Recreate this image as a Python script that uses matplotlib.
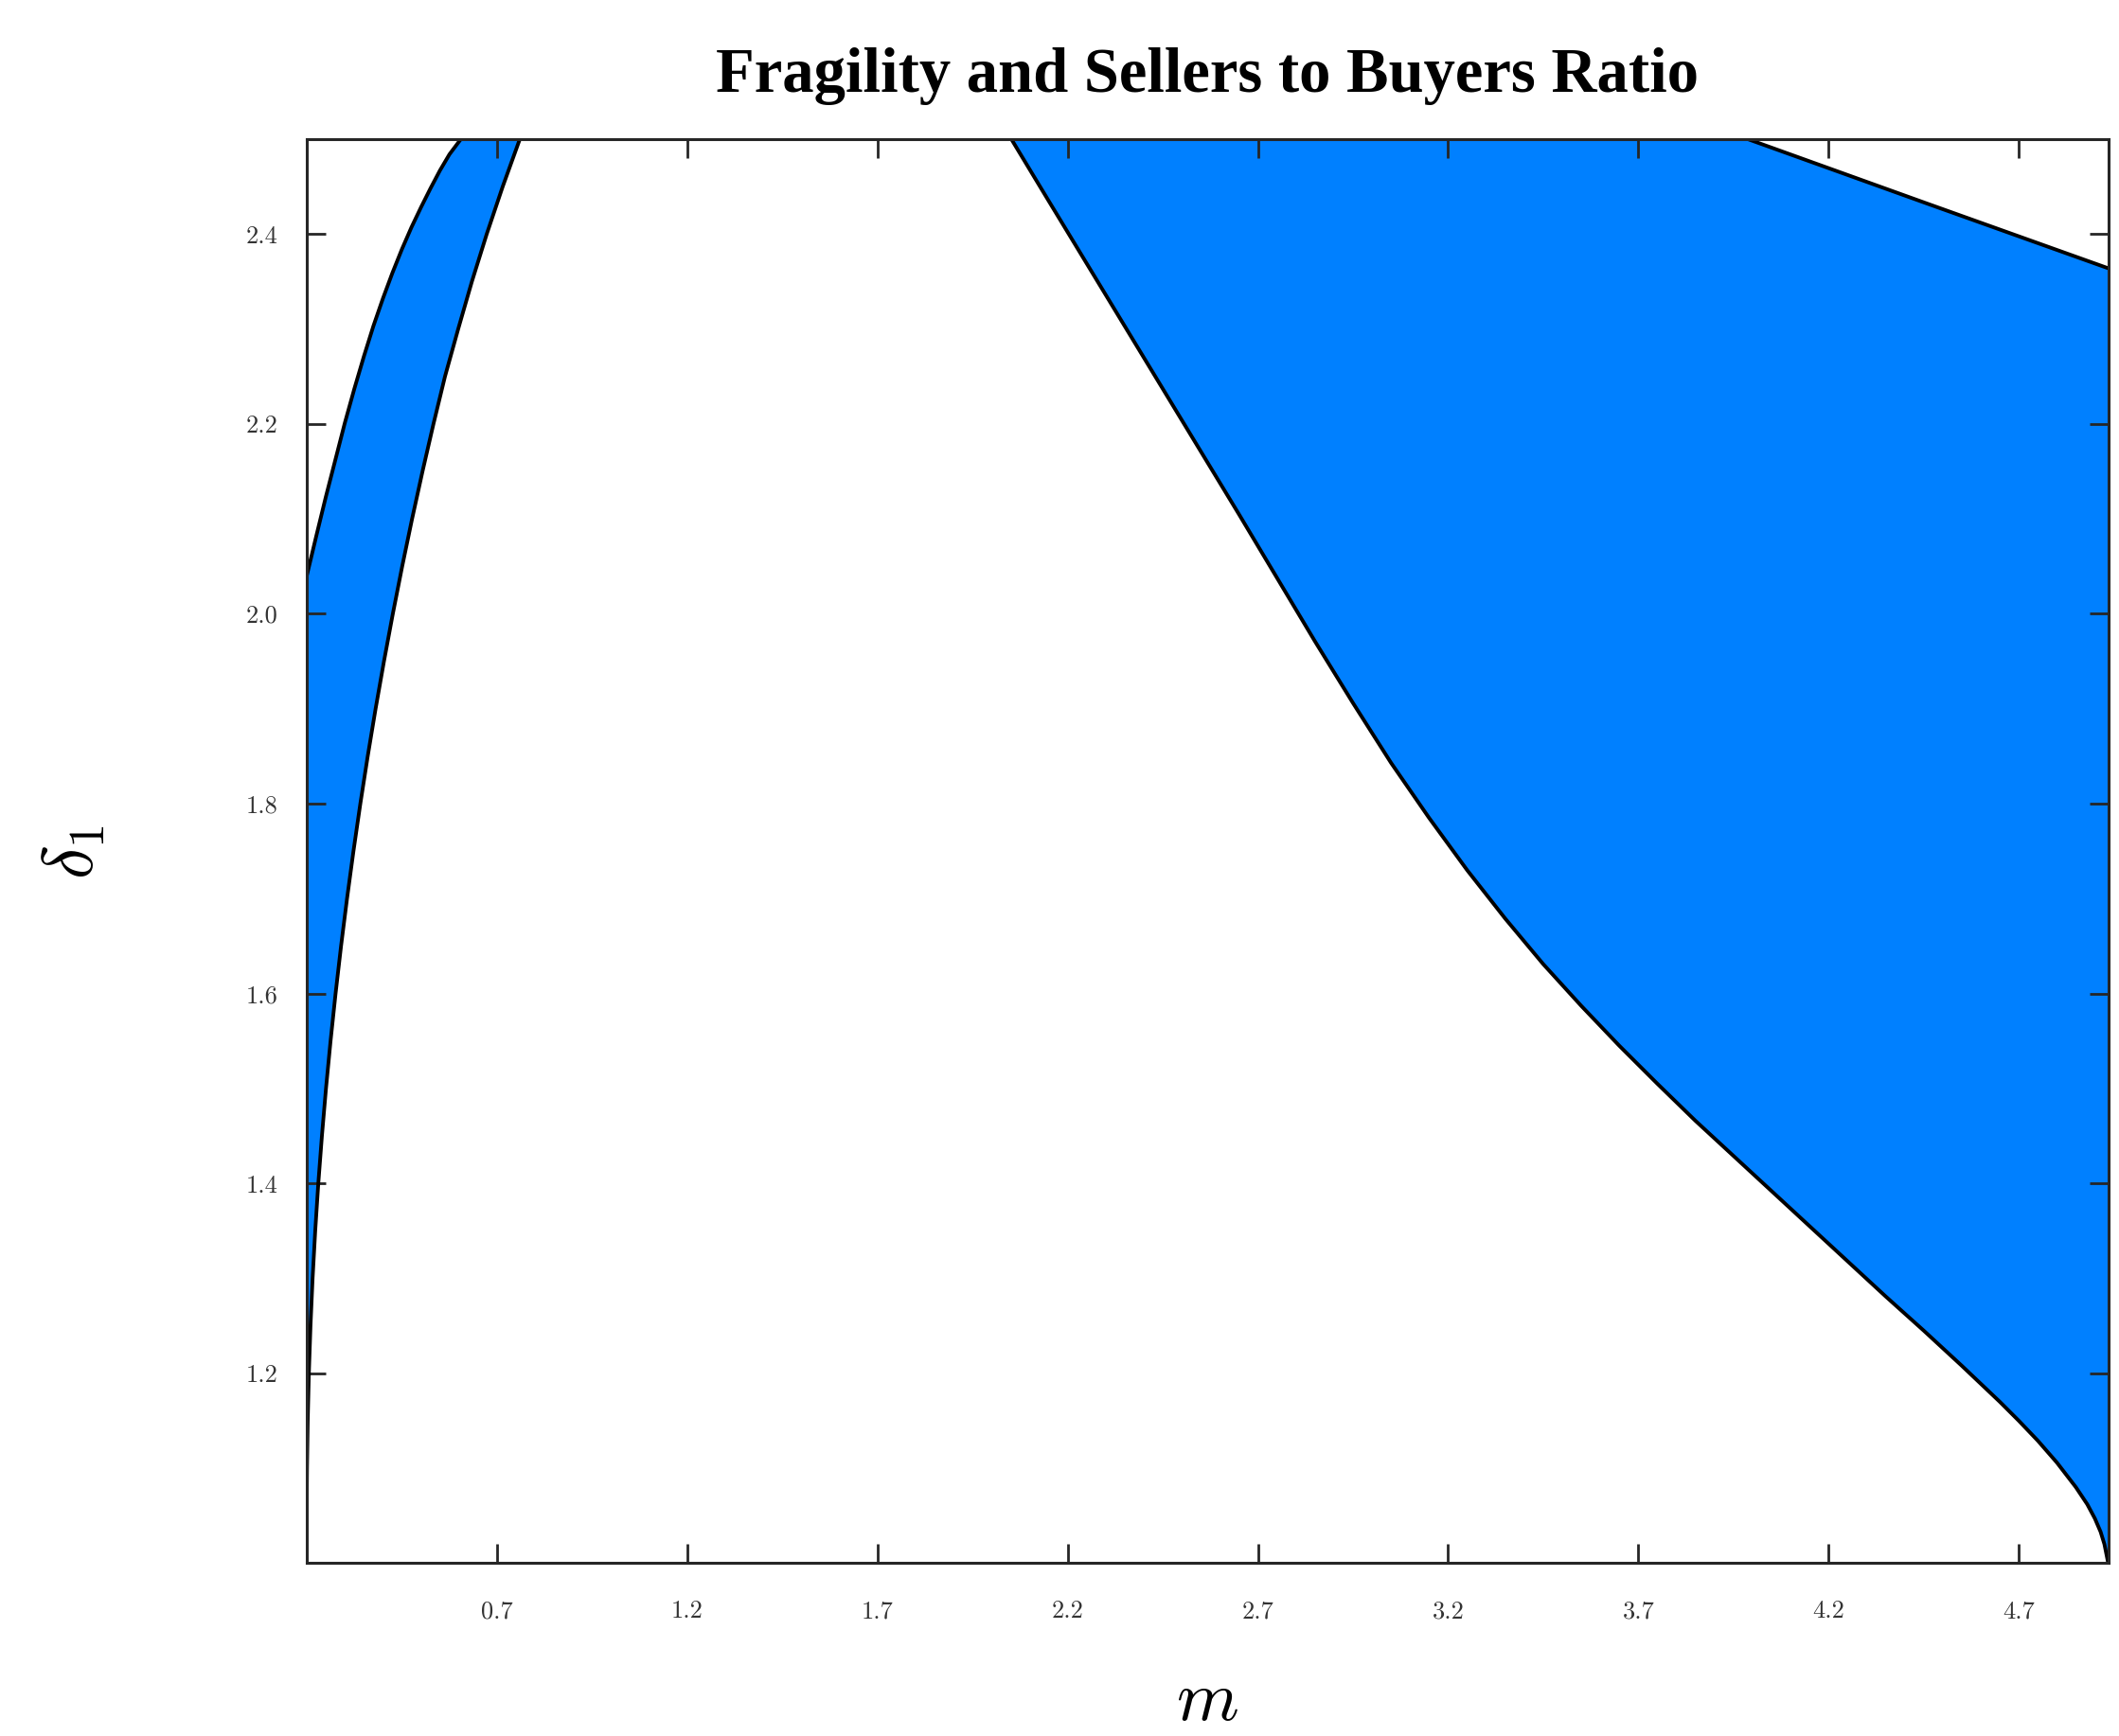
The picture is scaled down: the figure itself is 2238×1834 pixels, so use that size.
import numpy as np
import matplotlib
matplotlib.use("Agg")
from matplotlib import pyplot as plt

plt.rcParams["mathtext.fontset"] = "cm"

# left band: lower (right-hand) boundary, read bottom to top
d_left_lower = [1.05, 1.08, 1.10, 1.15, 1.20, 1.25, 1.30, 1.35, 1.40, 1.45,
                1.50, 1.55, 1.60, 1.65, 1.70, 1.75, 1.80, 1.85, 1.90, 1.95,
                2.00, 2.05, 2.10, 2.15, 2.20, 2.25, 2.30, 2.35, 2.40, 2.45,
                2.50]
m_left_lower = [0.2000, 0.2002, 0.2006, 0.2025, 0.2055, 0.2098, 0.2153, 0.2222,
                0.2303, 0.2398, 0.2505, 0.2625, 0.2757, 0.2901, 0.3058, 0.3227,
                0.3408, 0.3602, 0.3809, 0.4029, 0.4262, 0.4508, 0.4768, 0.5042,
                0.5330, 0.5633, 0.5980, 0.6340, 0.6730, 0.7150, 0.7600]

# left band: upper (left-hand) boundary
m_left_upper = [0.200, 0.225, 0.250, 0.275, 0.300, 0.325, 0.350, 0.375, 0.400,
                0.425, 0.450, 0.475, 0.500, 0.525, 0.550, 0.575, 0.605]
d_left_upper = [2.040, 2.082, 2.123, 2.162, 2.201, 2.237, 2.271, 2.303, 2.332,
                2.359, 2.384, 2.407, 2.428, 2.448, 2.467, 2.484, 2.500]

# right region: lower boundary
m_right_lower = [2.052, 2.15, 2.25, 2.35, 2.45, 2.55, 2.65, 2.75, 2.85, 2.95,
                 3.05, 3.15, 3.25, 3.35, 3.45, 3.55, 3.65, 3.75, 3.85, 3.95,
                 4.05, 4.15, 4.25, 4.35, 4.45, 4.55, 4.60, 4.65, 4.70, 4.75,
                 4.80, 4.85, 4.88, 4.90, 4.915, 4.925, 4.931, 4.934, 4.935]
d_right_lower = [2.500, 2.435, 2.369, 2.303, 2.237, 2.171, 2.105, 2.038, 1.971,
                 1.906, 1.843, 1.785, 1.730, 1.679, 1.631, 1.587, 1.545, 1.505,
                 1.466, 1.429, 1.392, 1.355, 1.318, 1.281, 1.245, 1.208, 1.189,
                 1.170, 1.150, 1.129, 1.106, 1.080, 1.062, 1.047, 1.033, 1.020,
                 1.008, 1.002, 1.000]

# right region: upper boundary
m_right_upper = [3.988, 4.460, 4.935]
d_right_upper = [2.500, 2.432, 2.364]

x_ticks = [0.7, 1.2, 1.7, 2.2, 2.7, 3.2, 3.7, 4.2, 4.7]
x_tick_labels = ["0.7", "1.2", "1.7", "2.2", "2.7", "3.2", "3.7", "4.2", "4.7"]
y_ticks = [1.2, 1.4, 1.6, 1.8, 2.0, 2.2, 2.4]
y_tick_labels = ["1.2", "1.4", "1.6", "1.8", "2.0", "2.2", "2.4"]

blue = "#0080FF"
W, H = 2238, 1834

fig = plt.figure(figsize=(W / 100, H / 100), dpi=100)
ax = fig.add_axes([324 / W, 1 - 1651.4 / H, (2226.6 - 324) / W, (1651.4 - 147) / H])

ax.fill(np.concatenate([m_left_lower, m_left_upper[::-1]]),
        np.concatenate([d_left_lower, d_left_upper[::-1]]),
        color=blue, lw=0, zorder=1)
ax.fill(np.concatenate([m_right_lower, m_right_upper[::-1]]),
        np.concatenate([d_right_lower, d_right_upper[::-1]]),
        color=blue, lw=0, zorder=1)

for xs, ys in [(m_left_lower, d_left_lower), (m_left_upper, d_left_upper),
               (m_right_lower, d_right_lower), (m_right_upper, d_right_upper)]:
    ax.plot(xs, ys, color="black", lw=2.8, zorder=2, solid_joinstyle="round")

ax.set_xlim(0.2, 4.935)
ax.set_ylim(1.0, 2.5)

ax.set_xticks(x_ticks, x_tick_labels, fontfamily="cmr10", fontsize=19)
ax.set_yticks(y_ticks, y_tick_labels, fontfamily="cmr10", fontsize=19)
ax.tick_params(direction="in", length=14.4, width=2, color="#262626",
               labelcolor="#333333", top=True, right=True)
ax.tick_params(axis="x", pad=28)
ax.tick_params(axis="y", pad=22)
for sp in ax.spines.values():
    sp.set_linewidth(2.2)
    sp.set_color("#262626")
    sp.set_zorder(5)

ax.set_title("Fragility and Sellers to Buyers Ratio", fontfamily="Liberation Serif",
             fontweight="bold", fontsize=48, pad=36)

fig.text(1275 / W, 1 - 1796 / H, r"$m$", fontsize=54, ha="center", va="center")
fig.text(78 / W, 1 - 900 / H, r"$\delta_1$", fontsize=54, rotation=90,
         ha="center", va="center")

fig.savefig("out.png", dpi=100, facecolor="white")
